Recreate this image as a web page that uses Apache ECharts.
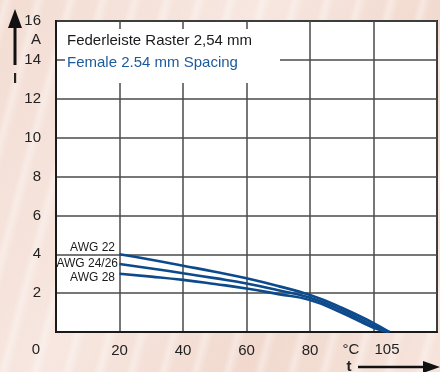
<!DOCTYPE html>
<html><head><meta charset="utf-8">
<script src="https://cdn.jsdelivr.net/npm/echarts@6/dist/echarts.min.js"></script>
<style>
html,body{margin:0;padding:0;}
#c{width:440px;height:372px;
background:
 repeating-linear-gradient(105deg, rgba(255,255,255,0) 0px, rgba(255,255,255,0.35) 6px, rgba(255,255,255,0) 14px, rgba(255,255,255,0) 31px),
 linear-gradient(120deg,#f3ddd3 0%,#f7e7e0 40%,#f1d9ce 70%,#f6e4dc 100%);}
</style></head>
<body><div id="c"></div>
<script>
// temperatures (°C)
var temps = [20, 30, 40, 50, 60, 70, 80, 90, 100, 105];
// current (A) per wire gauge
var awg22 = [4.0, 3.72, 3.41, 3.1, 2.76, 2.36, 1.9, 1.25, 0.46, 0];
var awg2426 = [3.5, 3.27, 3.02, 2.77, 2.5, 2.15, 1.76, 1.12, 0.33, 0];
var awg28 = [3.0, 2.85, 2.68, 2.47, 2.24, 1.95, 1.64, 0.99, 0.22, 0];
var seriesNames = ['AWG 22', 'AWG 24/26', 'AWG 28'];
var xTickLabels = [20, 40, 60, 80];
var yTickLabels = [2, 4, 6, 8, 10, 12, 14, 16];
var titleLines = ['Federleiste Raster 2,54 mm', 'Female 2.54 mm Spacing'];

var chart = echarts.init(document.getElementById('c'), null, {renderer:'canvas'});
function pairs(v){ return temps.map(function(t,i){ return [t, v[i]]; }); }
var FONT = 'Liberation Sans, Arial, sans-serif';
var lineColor = '#0d4a8c';
var gridLineStyle = {color:'#4a4a4a', width:1.5};

var allSeries = [awg22, awg2426, awg28].map(function(v, i){
  return {name: seriesNames[i], type:'line', smooth:true, symbol:'none', data: pairs(v),
    lineStyle:{color:lineColor, width:2.6}, z:5};
});

chart.setOption({
  animation:false,
  grid:{left:56, top:21, width:386, height:311, show:true, backgroundColor:'#ffffff', borderColor:'#1a1a1a', borderWidth:2},
  xAxis:{type:'value', min:0, max:120, interval:20,
    axisLine:{show:true, lineStyle:{color:'#1a1a1a', width:2}},
    axisTick:{show:false},
    splitLine:{show:true, lineStyle:gridLineStyle},
    axisLabel:{margin:11, fontFamily:FONT, fontSize:15, color:'#222',
      formatter:function(v){ return xTickLabels.indexOf(v) >= 0 ? String(v) : ''; }}
  },
  yAxis:{type:'value', min:0, max:16, interval:2,
    axisLine:{show:true, lineStyle:{color:'#1a1a1a', width:2}},
    axisTick:{show:false},
    splitLine:{show:true, lineStyle:gridLineStyle},
    axisLabel:{margin:15, fontFamily:FONT, fontSize:15, color:'#222',
      formatter:function(v){ return yTickLabels.indexOf(v) >= 0 ? String(v) : ''; }}
  },
  series: allSeries,
  graphic:[
    {type:'rect', shape:{x:65, y:29, width:215, height:54}, style:{fill:'#ffffff'}, z:10},
    {type:'text', x:67, y:41, z:11, style:{text:titleLines[0], font:'15px '+FONT, fill:'#1a1a1a', verticalAlign:'middle'}},
    {type:'text', x:67, y:63, z:11, style:{text:titleLines[1], font:'15px '+FONT, fill:'#1d5a9c', verticalAlign:'middle'}},
    {type:'text', x:115, y:248, z:11, style:{text:seriesNames[0], font:'12px '+FONT, fill:'#1a1a1a', align:'right', verticalAlign:'middle'}},
    {type:'text', x:118, y:264, z:11, style:{text:seriesNames[1], font:'12px '+FONT, fill:'#1a1a1a', align:'right', verticalAlign:'middle'}},
    {type:'text', x:115, y:278, z:11, style:{text:seriesNames[2], font:'12px '+FONT, fill:'#1a1a1a', align:'right', verticalAlign:'middle'}},
    {type:'text', x:36, y:40, z:11, style:{text:'A', font:'15px '+FONT, fill:'#222', align:'center', verticalAlign:'middle'}},
    {type:'text', x:15, y:79, z:11, style:{text:'I', font:'bold 15px '+FONT, fill:'#222', align:'center', verticalAlign:'middle'}},
    {type:'text', x:36, y:350, z:11, style:{text:'0', font:'15px '+FONT, fill:'#222', align:'center', verticalAlign:'middle'}},
    {type:'text', x:351, y:350, z:11, style:{text:'°C', font:'15px '+FONT, fill:'#222', align:'center', verticalAlign:'middle'}},
    {type:'text', x:387, y:350, z:11, style:{text:'105', font:'15px '+FONT, fill:'#222', align:'center', verticalAlign:'middle'}},
    {type:'text', x:349, y:367, z:11, style:{text:'t', font:'bold 15px '+FONT, fill:'#222', align:'center', verticalAlign:'middle'}},
    {type:'line', shape:{x1:15, y1:65, x2:15, y2:24}, style:{stroke:'#111', lineWidth:3}, z:11},
    {type:'polygon', shape:{points:[[8,28],[22,28],[15,9]]}, style:{fill:'#111'}, z:11},
    {type:'line', shape:{x1:358, y1:367, x2:426, y2:367}, style:{stroke:'#111', lineWidth:2.5}, z:11},
    {type:'polygon', shape:{points:[[423,361],[423,373],[440,367]]}, style:{fill:'#111'}, z:11}
  ]
});
</script></body></html>
